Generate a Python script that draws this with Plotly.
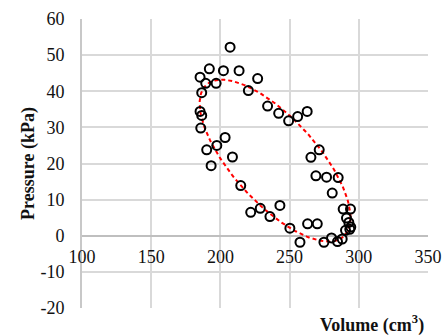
import numpy as np
import plotly.graph_objects as go

volume = [207.0, 185.3, 192.0, 189.4, 196.9, 202.2, 213.5, 226.9, 186.5, 220.2,
          234.1, 242.1, 249.3, 255.8, 262.7, 185.3, 186.5, 185.8, 203.4, 197.4,
          190.1, 193.3, 208.7, 271.4, 265.4, 269.0, 276.7, 285.1, 280.8, 214.7,
          243.0, 228.8, 221.9, 235.8, 288.7, 294.0, 291.1, 292.8, 263.0, 270.0,
          293.5, 290.4, 250.2, 294.2, 257.5, 274.8, 280.3, 284.6, 288.0]
pressure = [52.2, 43.9, 46.2, 42.2, 42.2, 45.7, 45.7, 43.5, 39.6, 40.2,
            35.9, 33.9, 31.8, 33.0, 34.4, 34.4, 33.3, 29.8, 27.2, 25.0,
            23.8, 19.4, 21.8, 23.8, 21.7, 16.6, 16.2, 16.1, 11.8, 13.9,
            8.4, 7.6, 6.5, 5.3, 7.4, 7.4, 4.9, 3.7, 3.3, 3.3,
            1.8, 1.5, 2.1, 2.4, -1.8, -1.8, -0.6, -1.6, -0.9]

# fitted ellipse parameters (center, amplitudes, phase)
ell_cx, ell_cy = 239.5, 20.8
ell_ax, ell_ay = 54.5, 22.4
ell_phase = np.deg2rad(135)

x_ticks = [100, 150, 200, 250, 300, 350]
y_ticks = [-20, -10, 0, 10, 20, 30, 40, 50, 60]
y_tick_labels = ["-20", "-10", "0", "10", "20", "30", "40", "50", "60"]

t = np.linspace(0, 2 * np.pi, 200)
ex = ell_cx + ell_ax * np.cos(t)
ey = ell_cy + ell_ay * np.cos(t + ell_phase)

fig = go.Figure()
fig.add_trace(go.Scatter(x=ex, y=ey, mode="lines",
                         line=dict(color="#ff0000", width=2, dash="4px,3px"),
                         hoverinfo="skip"))
fig.add_trace(go.Scatter(x=volume, y=pressure, mode="markers",
                         marker=dict(symbol="circle-open", size=9, color="black",
                                     line=dict(width=2, color="black"))))

font = dict(family="Liberation Serif", size=18, color="#111111")
fig.update_layout(
    width=445, height=336,
    margin=dict(l=82, r=17, t=19, b=28, autoexpand=False),
    paper_bgcolor="white", plot_bgcolor="white",
    showlegend=False,
    font=font,
    xaxis=dict(range=[100, 350], tickvals=x_ticks, showgrid=True,
               gridcolor="#d9d9d9", gridwidth=1.8, zeroline=False,
               showline=False, anchor="free", position=0.25, automargin=False,
               ticks="", ticklabelstandoff=8, tickfont=font),
    yaxis=dict(range=[-20, 60], tickvals=y_ticks, ticktext=y_tick_labels,
               showgrid=True,
               gridcolor="#d9d9d9", gridwidth=1.8, zeroline=True,
               zerolinecolor="#bfbfbf", zerolinewidth=2.2, automargin=False,
               showline=True, linecolor="#c8c8c8", linewidth=1.8,
               ticks="", ticklabelstandoff=12, tickfont=font,
               title=dict(text="<b>Pressure (kPa)</b>", standoff=1,
                          font=dict(family="Liberation Serif", size=18, color="#111111"))),
)
fig.add_annotation(text="<b>Volume (cm<sup>3</sup>)</b>", xref="paper", yref="paper",
                   x=0.995, y=0, xanchor="right", yanchor="top", yshift=-2,
                   showarrow=False,
                   font=dict(family="Liberation Serif", size=18, color="#111111"))
fig.write_html("out.html", config={"displayModeBar": False},
               post_script="document.body.style.margin='0';document.body.style.overflow='hidden';")
